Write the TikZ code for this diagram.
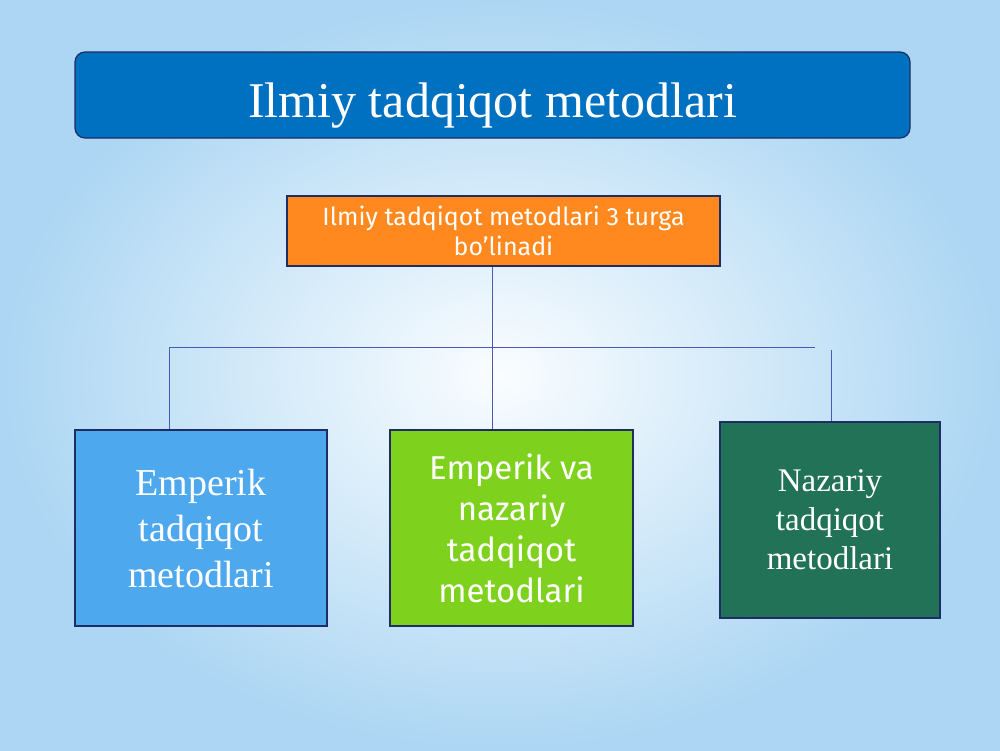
\documentclass[tikz,border=0pt]{standalone}
\usepackage{fontspec}
\setmainfont{Liberation Serif}
\newfontfamily\boxsans{Fira Sans}
\definecolor{bgcenter}{RGB}{250,253,255}
\definecolor{bgedge}{RGB}{172,214,243}
\definecolor{titleblue}{RGB}{0,112,192}
\definecolor{framenavy}{RGB}{30,45,100}
\definecolor{orangebox}{RGB}{255,137,30}
\definecolor{skybox}{RGB}{78,168,238}
\definecolor{limebox}{RGB}{126,210,30}
\definecolor{pinebox}{RGB}{34,114,88}
\definecolor{linkblue}{RGB}{75,88,185}
\begin{document}
\begin{tikzpicture}[x=1pt,y=-1pt,
    box/.style={draw=framenavy, line width=1.2pt, inner sep=0pt, align=center, text=white},
    link/.style={draw=linkblue, line width=1pt}]
  \shade[inner color=bgcenter, outer color=bgedge] (0,0) rectangle (1000,750);
  \useasboundingbox (0,0) rectangle (1000,750);

  \node[box, fill=titleblue, rounded corners=10pt, minimum width=835pt, minimum height=86pt,
        text height=44pt, text depth=0pt,
        font=\fontsize{50}{56}\selectfont] (title) at (492.5,95) {Ilmiy tadqiqot metodlari};
  \node[box, fill=orangebox, minimum width=433pt, minimum height=70pt,
        font=\boxsans\fontsize{25}{30}\selectfont] (split) at (503.5,231)
        {Ilmiy tadqiqot metodlari 3 turga\\bo’linadi};

  \node[box, fill=skybox, minimum width=252pt, minimum height=196pt,
        font=\fontsize{38}{46}\selectfont] (emp) at (201,528)
        {Emperik\\tadqiqot\\metodlari};
  \node[box, fill=limebox, minimum width=243pt, minimum height=196pt,
        font=\boxsans\fontsize{33}{41}\selectfont] (mix) at (511.5,528)
        {Emperik va\\nazariy\\tadqiqot\\metodlari};
  \node[box, fill=pinebox, minimum width=220pt, minimum height=196pt,
        font=\fontsize{33}{39}\selectfont] (naz) at (830,520)
        {Nazariy\\tadqiqot\\metodlari};

  \coordinate (barL) at (169,347);
  \coordinate (barM) at (492,347);
  \coordinate (barR) at (815,347);
  \coordinate (dropR) at (831,350);

  \draw[link] (barM |- split.south) -- (barM |- mix.north);
  \draw[link] (barL) -- (barR);
  \draw[link] (barL) -- (barL |- emp.north);
  \draw[link] (dropR) -- (dropR |- naz.north);
\end{tikzpicture}
\end{document}
